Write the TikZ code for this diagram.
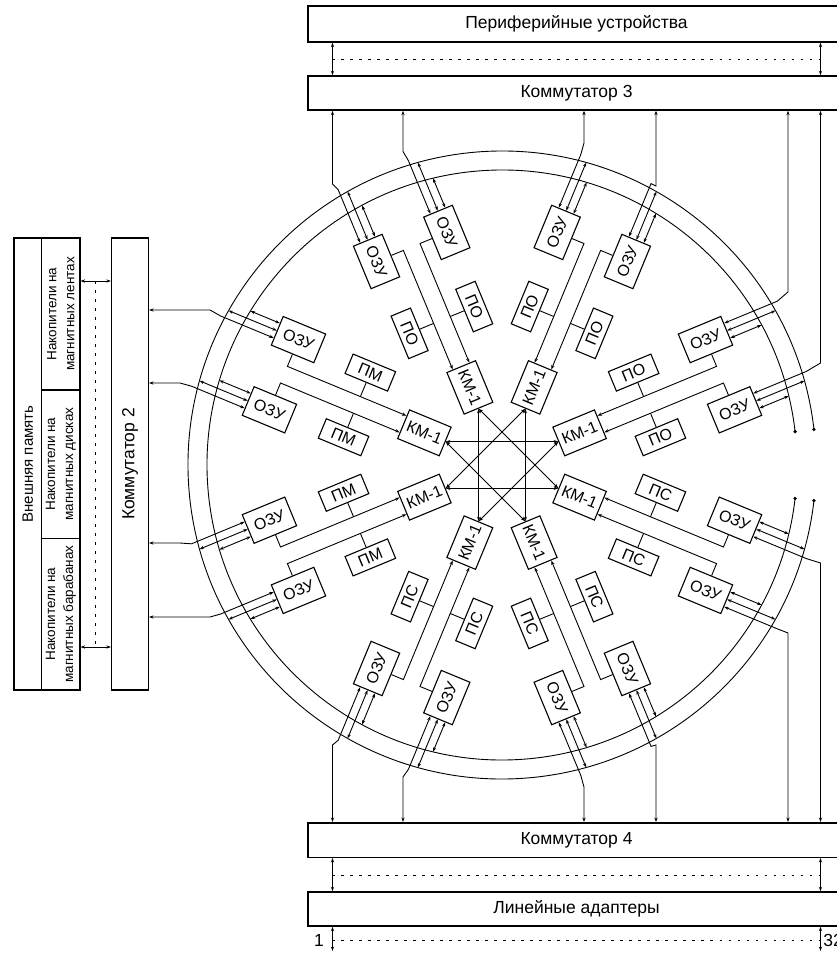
\documentclass[tikz,border=0pt]{standalone}
\usepackage{fontspec}
\setmainfont{Liberation Sans}
\usepackage{graphicx}
\usetikzlibrary{arrows.meta,calc}

% text that would stand upside down in a rotated box
\newcommand\boxturn[2]{\ifnum#1=1\relax\rotatebox{180}{#2}\else#2\fi}

\begin{document}
\begin{tikzpicture}[x=1pt, y=1pt, line width=0.9pt,
    >={Stealth[length=4.5pt,width=3.2pt]},
    bigbox/.style={draw, line width=1.5pt, inner sep=0pt, font=\fontsize{17.5}{20}\selectfont},
    unit/.style={draw, line width=1.1pt, inner sep=0pt, font=\fontsize{16}{18}\selectfont},
    ozu/.style={unit, minimum width=46, minimum height=31},
    km/.style={unit, minimum width=45, minimum height=31},
    aux/.style={unit, minimum width=46, minimum height=21},
    cell/.style={draw, line width=1.1pt, inner sep=0pt, align=center, font=\fontsize{13.5}{18}\selectfont},
    bus/.style={dash pattern=on 2.5pt off 6.5pt}]

\useasboundingbox (-502,-489) rectangle (335,465);

% ring with its two buses
\draw (6.5:314) arc[start angle=6.5, end angle=353.5, radius=314];
\draw (6.5:295) arc[start angle=6.5, end angle=353.5, radius=295];
\foreach \r in {295,314} \fill (6.5:\r) circle (1.8) (-6.5:\r) circle (1.8);

% eight sectors: KM-1, two OZU, two side units
\foreach \i/\lab/\fl/\s in {0/ПО/0/1, 1/ПО/0/1, 2/ПО/1/1, 3/ПМ/1/1,
                            4/ПМ/1/-1, 5/ПС/1/-1, 6/ПС/0/-1, 7/ПС/0/-1}{
  \begin{scope}[rotate=22.5+45*\i, transform shape]
    \node[km] (km\i) at (84,0) {\boxturn{\fl}{КМ-1}};
    \foreach \p/\v/\an in {a/-1/north, b/1/south}{
      \node[ozu] (oz\i\p) at (236,38*\v) {\boxturn{\fl}{ОЗУ}};
      \node[aux] (ax\i\p) at (157,35*\v) {\boxturn{\fl}{\lab}};
      \draw[->] (oz\i\p.\an) -- (236,9*\v) -- ($(km\i.east)+(0,9*\v)$);
      \draw (ax\i\p.\an) -- (157,9*\v);
      \pgfmathsetmacro\vk{38*\v+8*\s}
      \pgfmathsetmacro\vi{38*\v-8*\s}
      \pgfmathsetmacro\ui{100*sqrt(2.95^2-(\vi/100)^2)}
      \pgfmathsetmacro\uo{100*sqrt(3.14^2-0.38^2)}
      \draw[<->] ($(oz\i\p.east)+(0,-8*\s)$) -- (\ui,\vi);
      \draw[<->] (oz\i\p.east) -- (\uo,38*\v);
      \coordinate (kc\i\p) at ($(oz\i\p.east)+(0,8*\s)$);
      \coordinate (kd\i\p) at (317,\vk);
    }
  \end{scope}
}

% links between the KM-1
\foreach \i in {0,...,7}{
  \pgfmathtruncatemacro\j{mod(\i+3,8)}
  \draw[<->] (km\i.west) -- (km\j.west);
}

% top
\node[bigbox, minimum width=537, minimum height=36] (peri) at (74.5,441) {Периферийные устройства};
\node[bigbox, minimum width=537, minimum height=34] (kom3) at (74.5,372) {Коммутатор 3};
\foreach \x in {-169.5,318.5}
  \draw[<->] (\x,0 |- peri.south) -- (\x,0 |- kom3.north);
\draw[bus] (-169.5,406) -- (318.5,406);
\foreach \c/\bx/\by in {2b/-169.5/281, 2a/-99/313.5, 1b/82/322, 1a/154/279, 0b/286/173, 0a/318.5/102}
  \draw[<->] (kc\c) -- (kd\c) -- (\bx,\by) -- (\bx,\by |- kom3.south);

% bottom
\node[bigbox, minimum width=537, minimum height=34.5] (kom4) at (74.5,-375) {Коммутатор 4};
\node[bigbox, minimum width=537, minimum height=34] (adapt) at (74.5,-444) {Линейные адаптеры};
\foreach \x in {-169.5,318.5}{
  \draw[<->] (\x,0 |- kom4.south) -- (\x,0 |- adapt.north);
  \draw[<->] (\x,0 |- adapt.south) -- (\x,-486);
}
\draw[bus] (-169.5,-410) -- (318.5,-410);
\draw[bus] (-169.5,-475) -- (318.5,-475);
\node[font=\fontsize{17.5}{20}\selectfont] (first) at (-183,-475) {1};
\node[font=\fontsize{17.5}{20}\selectfont, anchor=west, inner sep=1pt] (last) at (320,-475) {32};
\foreach \c/\bx/\by in {5a/-169.5/-280, 5b/-99/-312, 6a/82/-322, 6b/154/-280, 7a/286/-168, 7b/318.5/-98}
  \draw[<->] (kc\c) -- (kd\c) -- (\bx,\by) -- (\bx,\by |- kom4.north);

% left: external memory
\node[cell, rotate=90, minimum width=452, minimum height=27.7, font=\fontsize{15}{18}\selectfont] (mem) at (-474.15,1) {Внешняя память};
\node[cell, rotate=90, minimum width=152, minimum height=38.3] (tape) at (-441.15,151) {Накопители на\\магнитных лентах};
\node[cell, rotate=90, minimum width=148.3, minimum height=38.3] (disk) at (-441.15,0.85) {Накопители на\\магнитных дисках};
\node[cell, rotate=90, minimum width=151.7, minimum height=38.3] (drum) at (-441.15,-149.15) {Накопители на\\магнитных барабанах};
\node[bigbox, rotate=90, minimum width=452, minimum height=36.6] (kom2) at (-372,1) {Коммутатор 2};
\draw[bus] (-407,184) -- (-407,-182);
\draw[<->] (tape.south |- -407,184) -- (kom2.north |- -407,184);
\draw[<->] (drum.south |- -407,-182) -- (kom2.north |- -407,-182);
\foreach \c/\bx/\by in {3a/-292/155, 3b/-322/82, 4a/-322/-78, 4b/-292/-152}
  \draw[<->] (kc\c) -- (kd\c) -- (\bx,\by) -- (kom2.south |- \bx,\by);

\end{tikzpicture}
\end{document}
